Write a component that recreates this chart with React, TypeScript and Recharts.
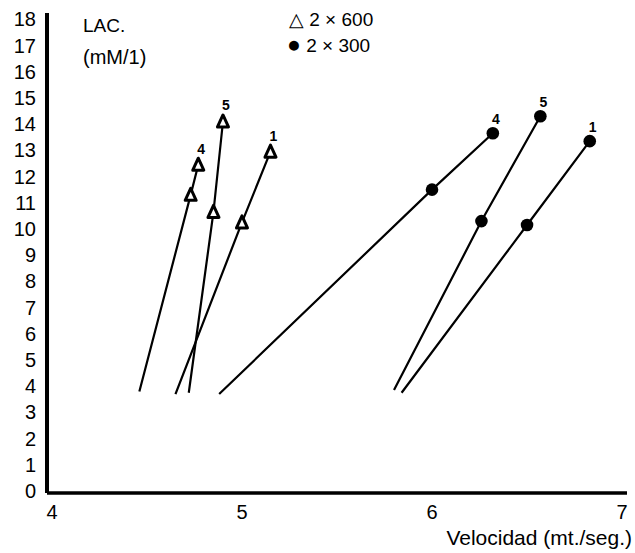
import { ScatterChart, Scatter, XAxis, YAxis } from 'recharts';

// run numbers written next to the last point of each line
const runs = ['4', '5', '1'];

// 2 x 600 (triangles): velocity (m/s) and lactate (mM/l), one row per run
const vel600 = [
  [4.46, 4.73, 4.77],
  [4.72, 4.85, 4.9],
  [4.65, 5.0, 5.15],
];
const lac600 = [
  [3.8, 11.3, 12.45],
  [3.75, 10.65, 14.1],
  [3.7, 10.25, 12.95],
];

// 2 x 300 (dots)
const vel300 = [
  [4.88, 6.0, 6.32],
  [5.8, 6.26, 6.57],
  [5.84, 6.5, 6.83],
];
const lac300 = [
  [3.7, 11.5, 13.65],
  [3.85, 10.3, 14.3],
  [3.75, 10.15, 13.35],
];

const xTicks = [4, 5, 6, 7];
const yTicks = [0, 1, 2, 3, 4, 5, 6, 7, 8, 9, 10, 11, 12, 13, 14, 15, 16, 17, 18];

const FONT = '"Liberation Sans", Arial, Helvetica, sans-serif';

type Pt = { x: number; y: number; mark: string; label: string };

const buildSeries = (vel: number[][], lac: number[][], kind: string): Pt[][] =>
  vel.map((row, r) =>
    row.map((x, i) => ({
      x,
      y: lac[r][i],
      mark: i === 0 ? 'none' : kind,
      label: i === row.length - 1 ? runs[r] : '',
    }))
  );

const series600 = buildSeries(vel600, lac600, 'tri');
const series300 = buildSeries(vel300, lac300, 'dot');

const Marker = (props: any) => {
  const { cx, cy, payload } = props;
  if (cx == null || cy == null) return null;
  const mark = payload?.mark;
  const label = payload?.label;
  return (
    <g>
      {mark === 'tri' && (
        <path
          d={`M${cx},${cy - 6.5} L${cx + 5.5},${cy + 5.5} L${cx - 5.5},${cy + 5.5} Z`}
          fill="#fff"
          stroke="#000"
          strokeWidth={3}
          strokeLinejoin="round"
        />
      )}
      {mark === 'dot' && <circle cx={cx} cy={cy} r={6.3} fill="#000" />}
      {label && (
        <text
          x={cx + 3}
          y={cy - (mark === 'tri' ? 16 : 14)}
          textAnchor="middle"
          dominantBaseline="central"
          fontSize={14}
          fontWeight="bold"
          fontFamily={FONT}
          fill="#000"
        >
          {label}
        </text>
      )}
    </g>
  );
};

export default function App() {
  return (
    <div style={{ position: 'absolute', left: 0, top: 0, width: 635, height: 553, background: '#fff', fontFamily: FONT }}>
      <ScatterChart width={635} height={553} margin={{ top: 13, right: 8, bottom: 0, left: 0 }}>
        <XAxis
          type="number"
          dataKey="x"
          domain={[3.974, 7.026]}
          ticks={xTicks}
          allowDataOverflow
          height={60}
          tickLine={false}
          tickSize={0}
          tickMargin={12}
          axisLine={{ stroke: '#000', strokeWidth: 3.5 }}
          tick={{ fill: '#000', fontSize: 20, fontFamily: FONT }}
        />
        <YAxis
          type="number"
          dataKey="y"
          domain={[-0.076, 18.24]}
          ticks={yTicks}
          interval={0}
          allowDataOverflow
          width={47}
          tickLine={false}
          tickSize={0}
          tickMargin={11}
          axisLine={{ stroke: '#000', strokeWidth: 4 }}
          tick={{ fill: '#000', fontSize: 20, fontFamily: FONT }}
        />
        {series600.map((data, i) => (
          <Scatter
            key={'t' + i}
            data={data}
            line={{ stroke: '#000', strokeWidth: 2.2 }}
            shape={<Marker />}
            isAnimationActive={false}
          />
        ))}
        {series300.map((data, i) => (
          <Scatter
            key={'d' + i}
            data={data}
            line={{ stroke: '#000', strokeWidth: 2.2 }}
            shape={<Marker />}
            isAnimationActive={false}
          />
        ))}
      </ScatterChart>
      <div style={{ position: 'absolute', left: 83, top: 15, fontSize: 19, lineHeight: '22px' }}>LAC.</div>
      <div style={{ position: 'absolute', left: 83, top: 46, fontSize: 20, lineHeight: '22px' }}>(mM/1)</div>
      <div style={{ position: 'absolute', left: 289, top: 9, fontSize: 19, lineHeight: '22px', whiteSpace: 'nowrap' }}>△ 2 × 600</div>
      <div style={{ position: 'absolute', left: 287, top: 33, fontSize: 19, lineHeight: '22px', whiteSpace: 'nowrap' }}>
        <span style={{ fontSize: 23 }}>●</span> 2 × 300
      </div>
      <div style={{ position: 'absolute', right: 3, top: 526, fontSize: 21, lineHeight: '24px', whiteSpace: 'nowrap' }}>Velocidad (mt./seg.)</div>
    </div>
  );
}
